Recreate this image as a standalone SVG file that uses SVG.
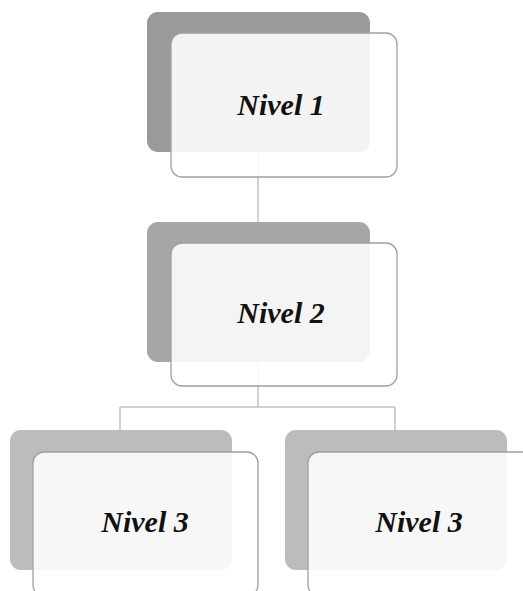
<svg xmlns="http://www.w3.org/2000/svg" width="523" height="591" viewBox="0 0 523 591">
<style>
.front{fill:#ffffff;fill-opacity:0.88;stroke:#a0a0a0;stroke-width:1.3}
.lbl{font-family:"Liberation Serif","Times New Roman",serif;font-size:30px;font-weight:bold;font-style:italic;fill:#111;text-anchor:middle}
.conn{fill:none;stroke:#c4c4c4;stroke-width:1.5}
</style>
<rect width="523" height="591" fill="#ffffff"/>
<g id="connectors">
<path class="conn" d="M258,152 V243"/>
<path class="conn" d="M258,362 V407 M120,407 H395 M120,407 V430 M395,407 V430"/>
</g>
<g id="node1">
<rect x="147" y="12" width="223" height="140" rx="11" fill="#9a9a9a"/>
<rect class="front" x="171" y="33" width="226" height="144" rx="11"/>
<text class="lbl" x="281" y="115">Nivel 1</text>
</g>
<g id="node2">
<rect x="147" y="222" width="223" height="140" rx="11" fill="#a6a6a6"/>
<rect class="front" x="171" y="243" width="226" height="143" rx="11"/>
<text class="lbl" x="281" y="323">Nivel 2</text>
</g>
<g id="node3a">
<rect x="10" y="430" width="222" height="140" rx="11" fill="#bcbcbc"/>
<rect class="front" x="33" y="452" width="225" height="144" rx="11"/>
<text class="lbl" x="145" y="532">Nivel 3</text>
</g>
<g id="node3b">
<rect x="285" y="430" width="222" height="140" rx="11" fill="#bcbcbc"/>
<rect class="front" x="308" y="452" width="225" height="144" rx="11"/>
<text class="lbl" x="419" y="532">Nivel 3</text>
</g>
</svg>
